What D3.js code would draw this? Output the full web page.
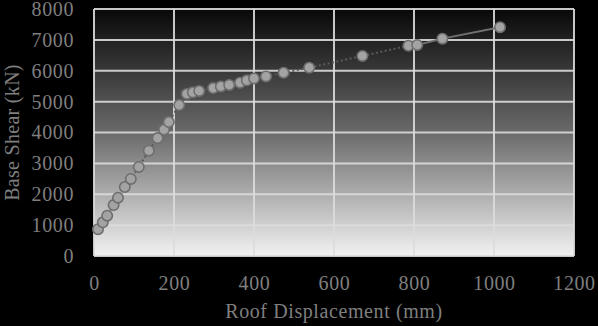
<!DOCTYPE html>
<html><head><meta charset="utf-8">
<script src="https://cdn.jsdelivr.net/npm/d3@7"></script>
<style>html,body{margin:0;padding:0;background:#000;}svg{display:block;}</style>
</head><body>
<script>
// Data
const displacement = [10,22,33,49,60,77,92,112,137,159,175,187,213,232,247,263,298,317,338,365,382,400,430,474,538,671,786,808,871,1015];
const baseShear = [870,1090,1305,1650,1890,2235,2495,2885,3410,3820,4090,4340,4890,5250,5300,5345,5440,5490,5540,5615,5690,5750,5815,5935,6100,6480,6810,6835,7040,7410];
const xTicks = [0,200,400,600,800,1000,1200];
const yTicks = [0,1000,2000,3000,4000,5000,6000,7000,8000];
const solidFrom = 26; // index where line becomes solid

const W = 598, H = 326;
const m = {l:94, r:24, t:9, b:70};
const svg = d3.select("body").append("svg").attr("width",W).attr("height",H);
svg.append("rect").attr("width",W).attr("height",H).attr("fill","#000");

const x = d3.scaleLinear().domain([0,1200]).range([m.l, W-m.r]);
const y = d3.scaleLinear().domain([0,8000]).range([H-m.b, m.t]);

const defs = svg.append("defs");
const g = defs.append("linearGradient").attr("id","bg").attr("x1",0).attr("y1",0).attr("x2",0).attr("y2",1);
g.append("stop").attr("offset","0%").attr("stop-color","#080808");
g.append("stop").attr("offset","50%").attr("stop-color","#6a6a6a");
g.append("stop").attr("offset","100%").attr("stop-color","#f2f2f2");
const f = defs.append("filter").attr("id","glow").attr("x","-50%").attr("y","-50%").attr("width","200%").attr("height","200%");
f.append("feGaussianBlur").attr("stdDeviation",0.6);

svg.append("rect").attr("x",x(0)).attr("y",y(8000)).attr("width",x(1200)-x(0)).attr("height",y(0)-y(8000)).attr("fill","url(#bg)");

// gridlines
svg.append("g").selectAll("line").data(xTicks).join("line")
  .attr("x1",d=>x(d)).attr("x2",d=>x(d)).attr("y1",y(0)).attr("y2",y(8000))
  .attr("stroke","#dcdcdc").attr("stroke-width",2).attr("stroke-opacity",0.9);
svg.append("g").selectAll("line").data(yTicks).join("line")
  .attr("x1",x(0)).attr("x2",x(1200)).attr("y1",d=>y(d)).attr("y2",d=>y(d))
  .attr("stroke","#dcdcdc").attr("stroke-width",2).attr("stroke-opacity",0.9);

// axes labels via d3 axes
const font = "'Liberation Serif', 'DejaVu Serif', serif";
const xa = svg.append("g").attr("transform",`translate(0,${y(0)})`)
  .call(d3.axisBottom(x).tickValues(xTicks).tickSize(0).tickPadding(20).tickFormat(d3.format("d")));
const ya = svg.append("g").attr("transform",`translate(${x(0)},0)`)
  .call(d3.axisLeft(y).tickValues(yTicks).tickSize(0).tickPadding(20).tickFormat(d3.format("d")));
[xa,ya].forEach(a=>{
  a.select(".domain").remove();
  a.selectAll("text").attr("fill","#7f7f7f").style("font-family",font).style("font-size","20px").style("letter-spacing","0.6px");
});

// line
const pts = displacement.map((d,i)=>[d,baseShear[i]]);
const line = d3.line().x(d=>x(d[0])).y(d=>y(d[1]));
svg.append("path").attr("d",line(pts.slice(0,solidFrom+1))).attr("fill","none")
  .attr("stroke","#5a5a5a").attr("stroke-width",2).attr("stroke-dasharray","2,2.5");
svg.append("path").attr("d",line(pts.slice(solidFrom))).attr("fill","none")
  .attr("stroke","#707070").attr("stroke-width",2);

// markers
svg.append("g").selectAll("circle").data(pts).join("circle")
  .attr("cx",d=>x(d[0])).attr("cy",d=>y(d[1])).attr("r",5.2)
  .attr("fill","#a3a3a3").attr("stroke","#6e6e6e").attr("stroke-width",1.6)
  .attr("filter","url(#glow)");

// titles
svg.append("text").attr("x",(x(0)+x(1200))/2).attr("y",318).attr("text-anchor","middle")
  .attr("fill","#7f7f7f").style("font-family",font).style("font-size","20px").style("letter-spacing","0.6px").text("Roof Displacement (mm)");
svg.append("text").attr("transform",`translate(19,${(y(0)+y(8000))/2}) rotate(-90)`).attr("text-anchor","middle")
  .attr("fill","#7f7f7f").style("font-family",font).style("font-size","20px").style("letter-spacing","0.3px").text("Base Shear (kN)");
</script>
</body></html>
